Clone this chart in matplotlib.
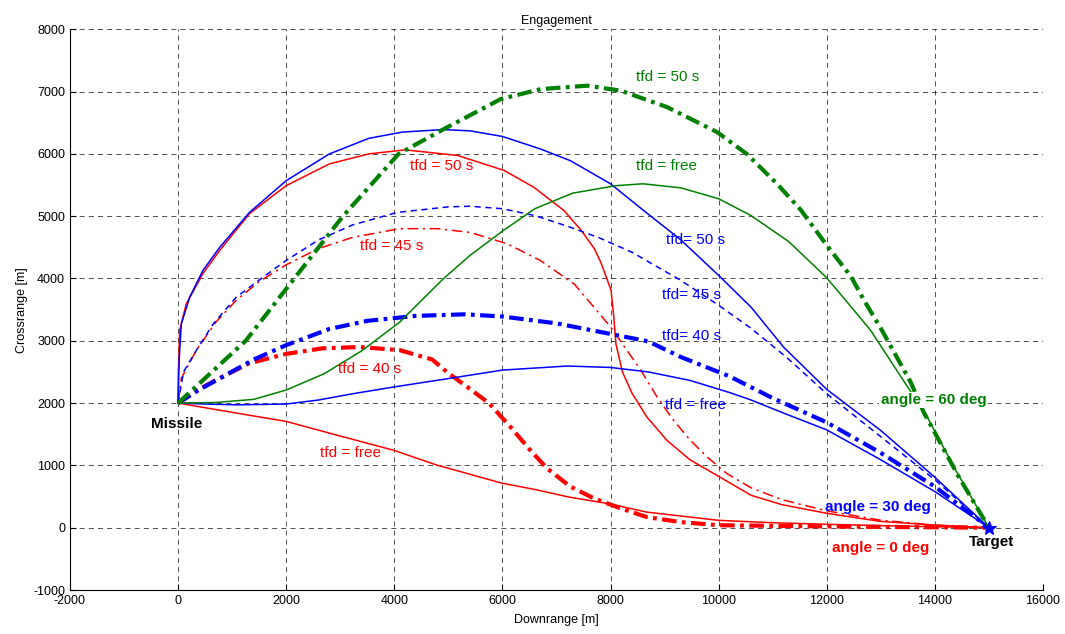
import numpy as np
import matplotlib
matplotlib.use("Agg")
import matplotlib.pyplot as plt

plt.rcParams['font.family'] = ['Liberation Sans', 'DejaVu Sans']
plt.rcParams['axes.unicode_minus'] = False

# ---- trajectories, angle = 0 deg (red) ----
red_free_x = [0, 1080, 2000, 2920, 4000, 4770, 5980, 6620, 7230, 8000, 8670, 10000, 11000, 12000, 13000, 14000, 15000]
red_free_y = [2000, 1840, 1706, 1490, 1240, 1010, 717, 610, 492, 380, 250, 118, 80, 55, 33, 15, 0]

red_40_x = [0, 300, 700, 1320, 2000, 2680, 3360, 4100, 4700, 5000, 5380, 5750, 6140, 6510, 6820, 7250, 7680, 8170, 8670, 9300, 10000, 12000, 15000]
red_40_y = [2000, 2180, 2370, 2640, 2790, 2880, 2900, 2850, 2700, 2480, 2240, 2000, 1626, 1250, 957, 663, 476, 316, 171, 90, 40, 20, 0]

red_45_x = [0, 60, 340, 700, 1075, 1500, 2000, 2600, 3230, 4100, 4800, 5400, 6080, 6700, 7330, 7800, 8050, 8300, 8545, 8860, 9160, 9470, 9780, 10150, 10600, 11170, 12000, 13000, 14000, 15000]
red_45_y = [2000, 2400, 2850, 3300, 3650, 3950, 4220, 4480, 4660, 4800, 4800, 4740, 4560, 4290, 3910, 3430, 3170, 2850, 2550, 2100, 1730, 1410, 1140, 870, 640, 450, 270, 120, 40, 0]

red_50_x = [0, 5, 30, 150, 460, 770, 1320, 2000, 2800, 3530, 4200, 5170, 6030, 6580, 7140, 7460, 7700, 7820, 8010, 8060, 8100, 8220, 8400, 8670, 9040, 9470, 10000, 10600, 11170, 12000, 13000, 14000, 15000]
red_50_y = [2000, 2500, 3170, 3590, 4080, 4450, 5040, 5490, 5840, 6000, 6065, 5975, 5735, 5465, 5090, 4770, 4480, 4260, 3813, 3385, 2950, 2500, 2155, 1780, 1405, 1090, 824, 520, 370, 231, 100, 43, 0]

# ---- trajectories, angle = 30 deg (blue) ----
blue_free_x = [0, 500, 1100, 2000, 2600, 3230, 4000, 4900, 6000, 7200, 8000, 8700, 9470, 10200, 10600, 11200, 12000, 13000, 14000, 15000]
blue_free_y = [2000, 1985, 1972, 1985, 2050, 2150, 2260, 2380, 2530, 2595, 2572, 2500, 2364, 2170, 2050, 1840, 1570, 1090, 580, 0]

blue_40_x = [0, 400, 800, 1400, 2000, 2800, 3500, 4400, 5300, 6000, 7000, 8000, 8700, 9300, 10200, 11000, 12000, 13000, 14000, 15000]
blue_40_y = [2000, 2220, 2410, 2700, 2930, 3190, 3320, 3400, 3425, 3390, 3280, 3110, 2990, 2740, 2430, 2080, 1690, 1200, 660, 0]

blue_45_x = [0, 100, 340, 650, 1075, 1570, 2000, 2600, 3230, 4050, 5000, 5400, 6000, 6600, 7200, 7800, 8400, 9300, 10000, 10600, 11250, 12000, 13000, 14000, 15000]
blue_45_y = [2000, 2500, 2850, 3270, 3700, 4020, 4290, 4620, 4860, 5060, 5150, 5160, 5120, 5010, 4840, 4650, 4420, 3970, 3570, 3200, 2740, 2150, 1460, 770, 0]

blue_50_x = [0, 20, 60, 215, 460, 770, 1320, 2000, 2800, 3530, 4150, 4900, 5400, 6000, 6700, 7260, 8000, 8600, 9300, 10000, 10600, 11200, 12000, 13000, 14000, 15000]
blue_50_y = [2000, 2700, 3270, 3700, 4130, 4500, 5060, 5570, 6000, 6250, 6350, 6390, 6370, 6280, 6080, 5890, 5520, 5100, 4620, 4050, 3540, 2900, 2220, 1560, 810, 0]

# ---- trajectories, angle = 60 deg (green) ----
green_free_x = [0, 700, 1400, 2000, 2700, 3400, 4100, 4900, 5400, 6000, 6600, 7300, 8100, 8600, 9300, 10000, 10600, 11300, 11990, 12350, 12810, 13450, 13820, 14380, 15000]
green_free_y = [2000, 2010, 2060, 2210, 2470, 2840, 3300, 3990, 4370, 4760, 5120, 5370, 5490, 5520, 5455, 5280, 5010, 4590, 4020, 3650, 3170, 2320, 1840, 930, 0]

green_50_x = [0, 1250, 2150, 3050, 4080, 4920, 5970, 6710, 7570, 8190, 9050, 9970, 10520, 11080, 11520, 12020, 12450, 12690, 13020, 13550, 13790, 14440, 15000]
green_50_y = [2000, 3000, 4000, 5000, 6000, 6400, 6880, 7040, 7095, 7015, 6750, 6350, 6000, 5520, 5100, 4510, 4030, 3650, 3170, 2340, 1860, 820, 0]

target = (15000, 0)

xticks = np.arange(-2000, 16001, 2000)
yticks = np.arange(-1000, 8001, 1000)

RED, BLUE, GREEN = '#ff0000', '#0000ff', '#008000'
thin = 1.1
thick = 3.0
dd_thick = (0, (3.5, 1.3, 0.9, 1.3))
dd_thin = (0, (7, 3, 1.5, 3))
dash_thin = (0, (4, 3))

fig = plt.figure(figsize=(10.65, 6.34), dpi=100)
ax = fig.add_axes([0.0657, 0.0694, 0.9136, 0.8844])

ax.plot(red_free_x, red_free_y, color=RED, lw=thin)
ax.plot(red_40_x, red_40_y, color=RED, lw=thick, linestyle=dd_thick)
ax.plot(red_45_x, red_45_y, color=RED, lw=thin, linestyle=dd_thin)
ax.plot(red_50_x, red_50_y, color=RED, lw=thin)

ax.plot(blue_free_x, blue_free_y, color=BLUE, lw=thin)
ax.plot(blue_40_x, blue_40_y, color=BLUE, lw=thick, linestyle=dd_thick)
ax.plot(blue_45_x, blue_45_y, color=BLUE, lw=thin, linestyle=dash_thin)
ax.plot(blue_50_x, blue_50_y, color=BLUE, lw=thin)

ax.plot(green_free_x, green_free_y, color=GREEN, lw=thin)
ax.plot(green_50_x, green_50_y, color=GREEN, lw=thick, linestyle=dd_thick)

ax.plot(*target, marker='*', color=BLUE, markersize=10, mew=0.8)

# labels
fs = 11
ax.text(8477, 7228, 'tfd = 50 s', color=GREEN, fontsize=fs, va='center')
ax.text(8477, 5801, 'tfd = free', color=GREEN, fontsize=fs, va='center')
ax.text(4290, 5801, 'tfd = 50 s', color=RED, fontsize=fs, va='center')
ax.text(3367, 4519, 'tfd = 45 s', color=RED, fontsize=fs, va='center')
ax.text(2961, 2548, 'tfd = 40 s', color=RED, fontsize=fs, va='center')
ax.text(2629, 1202, 'tfd = free', color=RED, fontsize=fs, va='center')
ax.text(9031, 4615, 'tfd= 50 s', color=BLUE, fontsize=fs, va='center')
ax.text(8957, 3734, 'tfd= 45 s', color=BLUE, fontsize=fs, va='center')
ax.text(8957, 3077, 'tfd= 40 s', color=BLUE, fontsize=fs, va='center')
ax.text(9013, 1971, 'tfd = free', color=BLUE, fontsize=fs, va='center')
ax.text(13000, 2051, 'angle = 60 deg', color=GREEN, fontsize=fs, fontweight='bold', va='center',
        bbox=dict(facecolor='white', edgecolor='none', pad=1))
ax.text(11965, 337, 'angle = 30 deg', color=BLUE, fontsize=fs, fontweight='bold', va='center')
ax.text(12094, -320, 'angle = 0 deg', color=RED, fontsize=fs, fontweight='bold', va='center')
ax.text(-507, 1667, 'Missile', color='black', fontsize=fs, fontweight='bold', va='center')
ax.text(14622, -224, 'Target', color='black', fontsize=fs, fontweight='bold', va='center')

ax.set_xlim(-2000, 16000)
ax.set_ylim(-1000, 8000)
ax.set_xticks(xticks)
ax.set_yticks(yticks)
ax.tick_params(direction='in', labelsize=9, length=4)
ax.grid(True, color='black', linestyle=(0, (6, 5)), linewidth=0.6, alpha=0.8)
ax.set_axisbelow(True)
for side in ('top', 'right'):
    ax.spines[side].set_visible(False)

ax.set_title('Engagement', fontsize=9, pad=4)
ax.set_xlabel('Downrange [m]', fontsize=9, labelpad=5)
ax.set_ylabel('Crossrange [m]', fontsize=9, labelpad=4)

fig.savefig('out.png', dpi=100)
